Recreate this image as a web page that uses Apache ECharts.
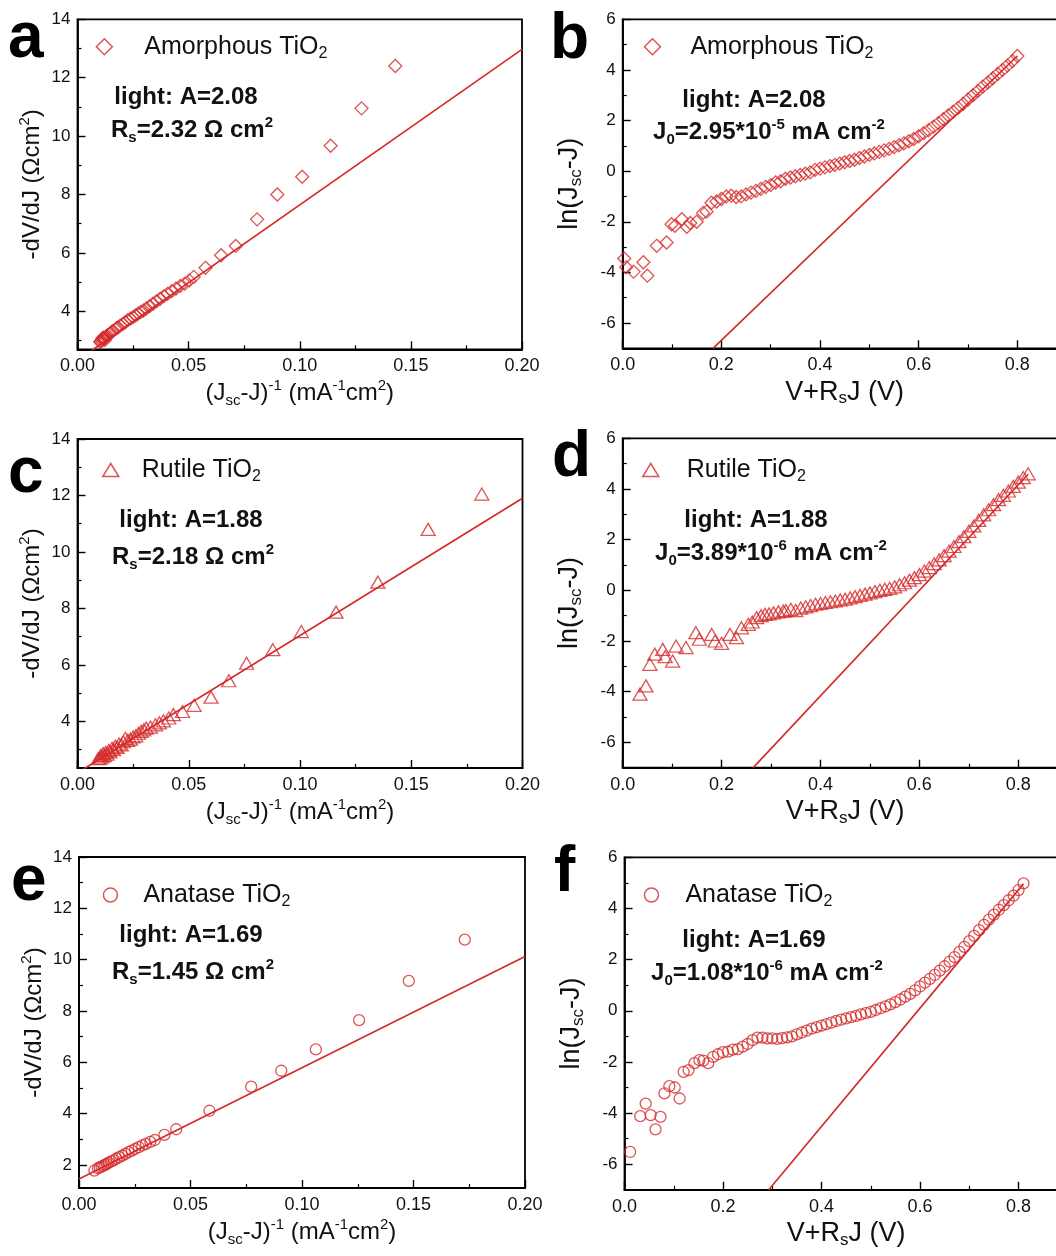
<!DOCTYPE html>
<html><head><meta charset="utf-8">
<script src="https://cdn.jsdelivr.net/npm/echarts@6/dist/echarts.min.js"></script>
<style>html,body{margin:0;padding:0;background:#fff}#c{width:1056px;height:1256px}</style>
</head><body><div id="c"></div>
<script>
// ---------------- data ----------------
// -dV/dJ vs (Jsc-J)^-1
const amorphousDvdj = [[0.143,12.4],[0.1278,10.95],[0.1139,9.67],[0.1011,8.61],[0.0899,8.0],[0.0808,7.15],[0.0712,6.24],[0.0646,5.92],[0.0576,5.49],[0.0523,5.18],[0.0503,5.06],[0.0483,4.95],[0.0463,4.87],[0.0443,4.78],[0.0424,4.69],[0.0405,4.6],[0.0389,4.52],[0.0372,4.43],[0.0356,4.35],[0.034,4.26],[0.0325,4.18],[0.031,4.1],[0.0297,4.03],[0.0285,3.98],[0.0273,3.92],[0.0262,3.86],[0.025,3.8],[0.0238,3.75],[0.0226,3.7],[0.0215,3.63],[0.0205,3.57],[0.0193,3.52],[0.0183,3.45],[0.0175,3.42],[0.016,3.33],[0.0155,3.3],[0.0147,3.25],[0.0136,3.18],[0.0131,3.15],[0.0127,3.12],[0.0124,3.02],[0.012,3.07],[0.0118,3.1],[0.0114,3.03],[0.0112,3.08],[0.0109,3.0],[0.0105,2.97],[0.0102,2.95]];
const rutileDvdj = [[0.1817,12.05],[0.1576,10.8],[0.135,8.93],[0.1162,7.87],[0.1006,7.18],[0.0878,6.54],[0.076,6.06],[0.068,5.44],[0.06,4.86],[0.0524,4.57],[0.0472,4.35],[0.0431,4.24],[0.041,4.12],[0.0386,4.02],[0.0368,3.95],[0.035,3.88],[0.0328,3.8],[0.0309,3.76],[0.0298,3.7],[0.0286,3.65],[0.0274,3.58],[0.0262,3.49],[0.025,3.45],[0.0238,3.37],[0.0226,3.33],[0.0215,3.4],[0.0206,3.28],[0.0197,3.17],[0.0187,3.2],[0.0178,3.08],[0.017,3.12],[0.0162,3.0],[0.0155,3.05],[0.0146,2.92],[0.014,2.97],[0.0133,2.84],[0.0127,2.9],[0.0121,2.79],[0.0115,2.86],[0.011,2.74],[0.0105,2.8],[0.0101,2.7],[0.0093,2.68]];
const anataseDvdj = [[0.173,10.78],[0.1479,9.17],[0.1256,7.64],[0.1062,6.5],[0.0907,5.67],[0.0772,5.05],[0.0585,4.11],[0.0436,3.39],[0.0383,3.17],[0.034,2.97],[0.032,2.9],[0.03,2.82],[0.0284,2.76],[0.0268,2.69],[0.0252,2.62],[0.0236,2.56],[0.0222,2.5],[0.0208,2.43],[0.0194,2.36],[0.0181,2.3],[0.0169,2.25],[0.0157,2.19],[0.0145,2.14],[0.0133,2.09],[0.0125,2.04],[0.0117,2.0],[0.0109,1.97],[0.0101,1.93],[0.0093,1.9],[0.0085,1.87],[0.0069,1.78]];

// ln(Jsc-J) vs V+RsJ
const amorphousLn = [[0.003,-3.45],[0.007,-3.8],[0.022,-3.97],[0.042,-3.6],[0.05,-4.13],[0.069,-2.95],[0.089,-2.82],[0.099,-2.1],[0.106,-2.16],[0.12,-1.9],[0.13,-2.2],[0.137,-2.05],[0.15,-2.0],[0.163,-1.65],[0.17,-1.6],
 [0.18,-1.25],[0.19,-1.2],[0.20,-1.1],[0.21,-1.0],[0.22,-0.97],[0.23,-1.02],[0.24,-1.0],[0.25,-0.92],[0.26,-0.85],[0.27,-0.78],[0.28,-0.7],[0.29,-0.62],[0.30,-0.55],[0.31,-0.45],[0.32,-0.4],[0.33,-0.3],[0.34,-0.25],[0.35,-0.2],[0.36,-0.15],[0.37,-0.1],[0.38,-0.05],[0.39,0.05],[0.40,0.1],[0.41,0.15],[0.42,0.2],[0.43,0.25],[0.44,0.3],[0.45,0.35],[0.46,0.4],[0.47,0.45],[0.48,0.52],[0.49,0.58],[0.50,0.64],[0.51,0.7],[0.52,0.76],[0.53,0.82],[0.54,0.88],[0.55,0.95],[0.56,1.02],[0.57,1.1],[0.58,1.18],[0.59,1.27],[0.60,1.38],[0.61,1.5],[0.62,1.62],[0.63,1.76],[0.64,1.9],[0.65,2.05],[0.66,2.2],[0.67,2.35],[0.68,2.5],[0.69,2.66],[0.70,2.83],[0.71,3.0],[0.72,3.17],[0.73,3.34],[0.74,3.5],[0.75,3.67],[0.76,3.84],[0.77,4.0],[0.78,4.17],[0.79,4.35],[0.80,4.55]];
const rutileLn = [[0.035,-4.1],[0.047,-3.77],[0.055,-2.92],[0.065,-2.52],[0.081,-2.33],[0.086,-2.62],[0.101,-2.79],[0.108,-2.2],[0.128,-2.26],[0.148,-1.67],[0.155,-1.93],[0.18,-1.74],[0.187,-2.0],[0.2,-2.09],[0.217,-1.74],[0.23,-1.87],[0.24,-1.48],[0.254,-1.34],[0.262,-1.25],[0.271,-1.08],[0.28,-1.0],[0.288,-0.95],[0.296,-0.93],[0.305,-0.89],[0.315,-0.85],[0.325,-0.82],
 [0.33,-0.8],[0.34,-0.75],[0.35,-0.8],[0.36,-0.7],[0.37,-0.65],[0.38,-0.6],[0.39,-0.55],[0.40,-0.52],[0.41,-0.48],[0.42,-0.45],[0.43,-0.42],[0.44,-0.38],[0.45,-0.35],[0.46,-0.3],[0.47,-0.25],[0.48,-0.2],[0.49,-0.15],[0.50,-0.1],[0.51,-0.05],[0.52,0.0],[0.53,0.04],[0.54,0.08],[0.55,0.14],[0.56,0.22],[0.57,0.3],[0.58,0.4],[0.59,0.5],[0.60,0.62],[0.61,0.76],[0.62,0.9],[0.63,1.05],[0.64,1.2],[0.65,1.37],[0.66,1.55],[0.67,1.73],[0.68,1.92],[0.69,2.12],[0.70,2.33],[0.71,2.54],[0.72,2.76],[0.73,2.98],[0.74,3.18],[0.75,3.38],[0.76,3.58],[0.77,3.75],[0.78,3.92],[0.79,4.1],[0.80,4.27],[0.81,4.45],[0.82,4.6]];
const anataseLn = [[0.0115,-5.52],[0.032,-4.12],[0.043,-3.63],[0.053,-4.08],[0.063,-4.64],[0.073,-4.15],[0.081,-3.23],[0.091,-2.95],[0.102,-3.0],[0.112,-3.43],[0.12,-2.39],[0.13,-2.32],[0.142,-2.05],[0.152,-1.93],
 [0.16,-1.95],[0.17,-2.05],[0.18,-1.8],[0.19,-1.7],[0.20,-1.62],[0.21,-1.6],[0.22,-1.52],[0.23,-1.5],[0.24,-1.4],[0.25,-1.3],[0.26,-1.15],[0.27,-1.05],[0.28,-1.05],[0.29,-1.08],[0.30,-1.08],[0.31,-1.1],[0.32,-1.07],[0.33,-1.04],[0.34,-1.0],[0.35,-0.92],[0.36,-0.85],[0.37,-0.78],[0.38,-0.7],[0.39,-0.64],[0.40,-0.58],[0.41,-0.52],[0.42,-0.46],[0.43,-0.4],[0.44,-0.35],[0.45,-0.3],[0.46,-0.25],[0.47,-0.2],[0.48,-0.14],[0.49,-0.09],[0.50,-0.04],[0.51,0.03],[0.52,0.1],[0.53,0.17],[0.54,0.25],[0.55,0.34],[0.56,0.44],[0.57,0.55],[0.58,0.66],[0.59,0.8],[0.60,0.95],[0.61,1.1],[0.62,1.25],[0.63,1.4],[0.64,1.57],[0.65,1.74],[0.66,1.92],[0.67,2.1],[0.68,2.3],[0.69,2.5],[0.70,2.72],[0.71,2.93],[0.72,3.15],[0.73,3.36],[0.74,3.56],[0.75,3.76],[0.76,3.95],[0.77,4.13],[0.78,4.32],[0.79,4.5],[0.80,4.72],[0.81,4.98]];

// fitted straight lines (end points)
const amorphousDvdjFit = [[0, 2.32], [0.2, 12.97]];
const rutileDvdjFit = [[0, 2.18], [0.2, 11.9]];
const anataseDvdjFit = [[0, 1.45], [0.2, 10.12]];
const amorphousLnFit = [[0.183, -7], [0.80, 4.55]];
const rutileLnFit = [[0.264, -7], [0.82, 4.58]];
const anataseLnFit = [[0.293, -7], [0.81, 4.96]];

// axis ranges and ticks
const dvdjXRange = [0, 0.2];
const dvdjXTicks = [0, 0.05, 0.10, 0.15, 0.20];
const dvdjXMinor = [0.025, 0.075, 0.125, 0.175];
const dvdjYMax = 14;
const dvdjYMinAmorphous = 2.7, dvdjYMinRutile = 2.35, dvdjYMinAnatase = 1.1;
const dvdjYTicks = [2, 4, 6, 8, 10, 12, 14];
const dvdjYMinor = [3, 5, 7, 9, 11, 13];
const lnXRange = [0, 0.9];
const lnXTicks = [0, 0.2, 0.4, 0.6, 0.8];
const lnXMinor = [0.1, 0.3, 0.5, 0.7];
const lnYRange = [-7, 6];
const lnYTicks = [-6, -4, -2, 0, 2, 4, 6];
const lnYMinor = [-5, -3, -1, 1, 3, 5];

// texts
const sampleNames = ['Amorphous TiO2', 'Rutile TiO2', 'Anatase TiO2'];
const idealityText = ['light: A=2.08', 'light: A=1.88', 'light: A=1.69'];
const rsText = ['R{sub|s}=2.32 Ω cm{sup|2}', 'R{sub|s}=2.18 Ω cm{sup|2}', 'R{sub|s}=1.45 Ω cm{sup|2}'];
const j0Text = ['J{sub|0}=2.95*10{sup|-5} mA cm{sup|-2}', 'J{sub|0}=3.89*10{sup|-6} mA cm{sup|-2}', 'J{sub|0}=1.08*10{sup|-6} mA cm{sup|-2}'];
const dvdjXName = '(J{sub|sc}-J){sup|-1} (mA{sup|-1}cm{sup|2})';
const dvdjYName = '-dV/dJ (Ωcm{sup|2})';
const lnXName = 'V+R{sub|s}J (V)';
const lnYName = 'ln(J{sub|sc}-J)';

// ---------------- chart ----------------
const RED = '#d42b2b';
const INK = '#111111';
const FONT = "'Liberation Sans', Arial, Helvetica, sans-serif";

function richStyles(size, weight, subDrop) {
  const small = Math.round(size * 0.64);
  return {
    sub: {fontSize: small, lineHeight: subDrop, verticalAlign: 'bottom', fontFamily: FONT, fontWeight: weight, color: INK, fill: INK},
    sup: {fontSize: small, lineHeight: small, verticalAlign: 'top', fontFamily: FONT, fontWeight: weight, color: INK, fill: INK}
  };
}

const panels = [
  {letter:'a', kind:'dvdj', s:0, data: amorphousDvdj, fit: amorphousDvdjFit, yMin: dvdjYMinAmorphous, symbol:'diamond', size:13,
   grid:{left:77.5, top:19.3, width:444.5, height:330}, letterPos:[8,39], legendPos:[95.6,31.7], legendPad:27,
   t1:[186,97], t2:[192,130]},
  {letter:'b', kind:'ln', s:0, data: amorphousLn, fit: amorphousLnFit, symbol:'diamond', size:13,
   grid:{left:622.7, top:19.3, width:444, height:329}, letterPos:[550,40], legendPos:[643.7,31.7], legendPad:25,
   t1:[754,100], t2:[769,132]},
  {letter:'c', kind:'dvdj', s:1, data: rutileDvdj, fit: rutileDvdjFit, yMin: dvdjYMinRutile, symbol:'triangle', size:[14,12],
   grid:{left:77.5, top:439, width:445, height:329}, letterPos:[8,474], legendPos:[102,455], legendPad:18,
   t1:[191,520], t2:[193,557]},
  {letter:'d', kind:'ln', s:1, data: rutileLn, fit: rutileLnFit, symbol:'triangle', size:[14,12],
   grid:{left:622.7, top:438.3, width:445, height:329.4}, letterPos:[552,458], legendPos:[642,455], legendPad:23,
   t1:[756,520], t2:[771,553]},
  {letter:'e', kind:'dvdj', s:2, data: anataseDvdj, fit: anataseDvdjFit, yMin: dvdjYMinAnatase, symbol:'circle', size:11,
   grid:{left:79, top:857, width:446, height:331}, letterPos:[11,882], legendPos:[102.7,880], legendPad:21,
   t1:[191,935], t2:[193,972]},
  {letter:'f', kind:'ln', s:2, data: anataseLn, fit: anataseLnFit, symbol:'circle', size:11,
   grid:{left:624.5, top:857.3, width:443.3, height:332.5}, letterPos:[554,873], legendPos:[643.7,880], legendPad:22,
   t1:[754,940], t2:[767,973]}
];

const grids = [], xAxes = [], yAxes = [], series = [], legends = [], graphics = [];

function lineStyleBlack(w) { return {color: '#000', width: w}; }

panels.forEach((p, i) => {
  const isD = p.kind === 'dvdj';
  grids.push(Object.assign({show: true, borderColor: '#000', borderWidth: 1.8, backgroundColor: 'transparent',
    containLabel: false, outerBoundsMode: 'none'}, p.grid));
  const xr = isD ? dvdjXRange : lnXRange;
  const yMin = isD ? p.yMin : lnYRange[0];
  const yMax = isD ? dvdjYMax : lnYRange[1];
  const xt = isD ? dvdjXTicks : lnXTicks;
  const xm = isD ? dvdjXMinor : lnXMinor;
  const yt = (isD ? dvdjYTicks : lnYTicks).filter(v => v >= yMin && v <= yMax);
  const ym = (isD ? dvdjYMinor : lnYMinor).filter(v => v > yMin && v < yMax);
  const nameSize = isD ? 24 : 27;
  const nameStyle = {fontSize: nameSize, fontFamily: FONT, color: INK, lineHeight: 30,
    rich: richStyles(nameSize, 'normal', 11)};
  // main x
  xAxes.push({type: 'value', gridIndex: i, min: xr[0], max: xr[1], position: 'bottom',
    axisLine: {show: true, onZero: false, lineStyle: lineStyleBlack(1.8)},
    axisTick: {show: true, inside: true, length: 8, customValues: xt, lineStyle: lineStyleBlack(1.4)},
    axisLabel: {show: true, customValues: xt, margin: 8, fontSize: 18, fontFamily: FONT, color: INK,
      formatter: v => v.toFixed(isD ? 2 : 1)},
    splitLine: {show: false},
    name: isD ? dvdjXName : lnXName, nameLocation: 'middle', nameGap: 29, nameTextStyle: nameStyle});
  // minor x
  xAxes.push({type: 'value', gridIndex: i, min: xr[0], max: xr[1], position: 'bottom',
    axisLine: {show: false, onZero: false},
    axisTick: {show: true, inside: true, length: 4, customValues: xm, lineStyle: lineStyleBlack(1.2)},
    axisLabel: {show: false}, splitLine: {show: false}});
  // main y
  yAxes.push({type: 'value', gridIndex: i, min: yMin, max: yMax, position: 'left',
    axisLine: {show: true, onZero: false, lineStyle: lineStyleBlack(1.8)},
    axisTick: {show: true, inside: true, length: 8, customValues: yt, lineStyle: lineStyleBlack(1.4)},
    axisLabel: {show: true, customValues: yt, margin: 7, fontSize: 17, fontFamily: FONT, color: INK},
    splitLine: {show: false},
    name: isD ? dvdjYName : lnYName, nameLocation: 'middle', nameRotate: 90,
    nameGap: isD ? 30 : 38, nameTextStyle: Object.assign({}, nameStyle, {fontSize: isD ? 24 : 27,
      rich: richStyles(isD ? 24 : 27, 'normal', 11)})});
  // minor y
  yAxes.push({type: 'value', gridIndex: i, min: yMin, max: yMax, position: 'left',
    axisLine: {show: false, onZero: false},
    axisTick: {show: true, inside: true, length: 4, customValues: ym, lineStyle: lineStyleBlack(1.2)},
    axisLabel: {show: false}, splitLine: {show: false}});

  const name = sampleNames[p.s];
  series.push({type: 'scatter', name: name, xAxisIndex: 2 * i, yAxisIndex: 2 * i, data: p.data,
    symbol: p.symbol, symbolSize: p.size,
    itemStyle: {color: 'rgba(0,0,0,0)', borderColor: RED, borderWidth: 1.3}, z: 3, silent: true});
  series.push({type: 'line', name: 'fit-' + p.letter, xAxisIndex: 2 * i, yAxisIndex: 2 * i, data: p.fit,
    showSymbol: false, symbol: 'none', clip: true, lineStyle: {color: RED, width: 1.7}, z: 2, silent: true});

  const parts = name.split('2');
  legends.push({show: true, data: [name], left: p.legendPos[0], top: p.legendPos[1], padding: 0,
    orient: 'horizontal', selectedMode: false, icon: p.symbol,
    itemWidth: p.symbol === 'triangle' ? 16 : (p.symbol === 'circle' ? 14 : 16),
    itemHeight: p.symbol === 'triangle' ? 13 : (p.symbol === 'circle' ? 14 : 16),
    itemStyle: {color: 'rgba(0,0,0,0)', borderColor: RED, borderWidth: 1.5},
    formatter: () => '{n|' + parts[0] + '}{s|2}',
    textStyle: {fontSize: 25, fontFamily: FONT, color: INK, lineHeight: 30,
      rich: {n: {fontSize: 25, fontFamily: FONT, color: INK, lineHeight: 30, padding: [0, 0, 0, p.legendPad]},
             s: {fontSize: 16, fontFamily: FONT, color: INK, lineHeight: 9, verticalAlign: 'bottom'}}}});

  graphics.push({type: 'text', x: p.letterPos[0], y: p.letterPos[1], silent: true,
    style: {text: p.letter, fontSize: 64, fontWeight: 'bold', fontFamily: FONT, fill: '#000',
      align: 'left', verticalAlign: 'middle'}});
  graphics.push({type: 'text', x: p.t1[0], y: p.t1[1], silent: true,
    style: {text: idealityText[p.s], fontSize: 24, fontWeight: 'bold', fontFamily: FONT, fill: INK,
      align: 'center', verticalAlign: 'middle'}});
  graphics.push({type: 'text', x: p.t2[0], y: p.t2[1], silent: true,
    style: {text: isD ? rsText[p.s] : j0Text[p.s], fontSize: 24, fontWeight: 'bold', fontFamily: FONT, fill: INK,
      lineHeight: 30, align: 'center', verticalAlign: 'middle',
      rich: richStyles(24, 'bold', 10)}});
});

const chart = echarts.init(document.getElementById('c'), null, {renderer: 'canvas'});
chart.setOption({
  animation: false,
  backgroundColor: '#ffffff',
  grid: grids, xAxis: xAxes, yAxis: yAxes, series: series, legend: legends,
  graphic: {elements: graphics}
});
</script></body></html>
